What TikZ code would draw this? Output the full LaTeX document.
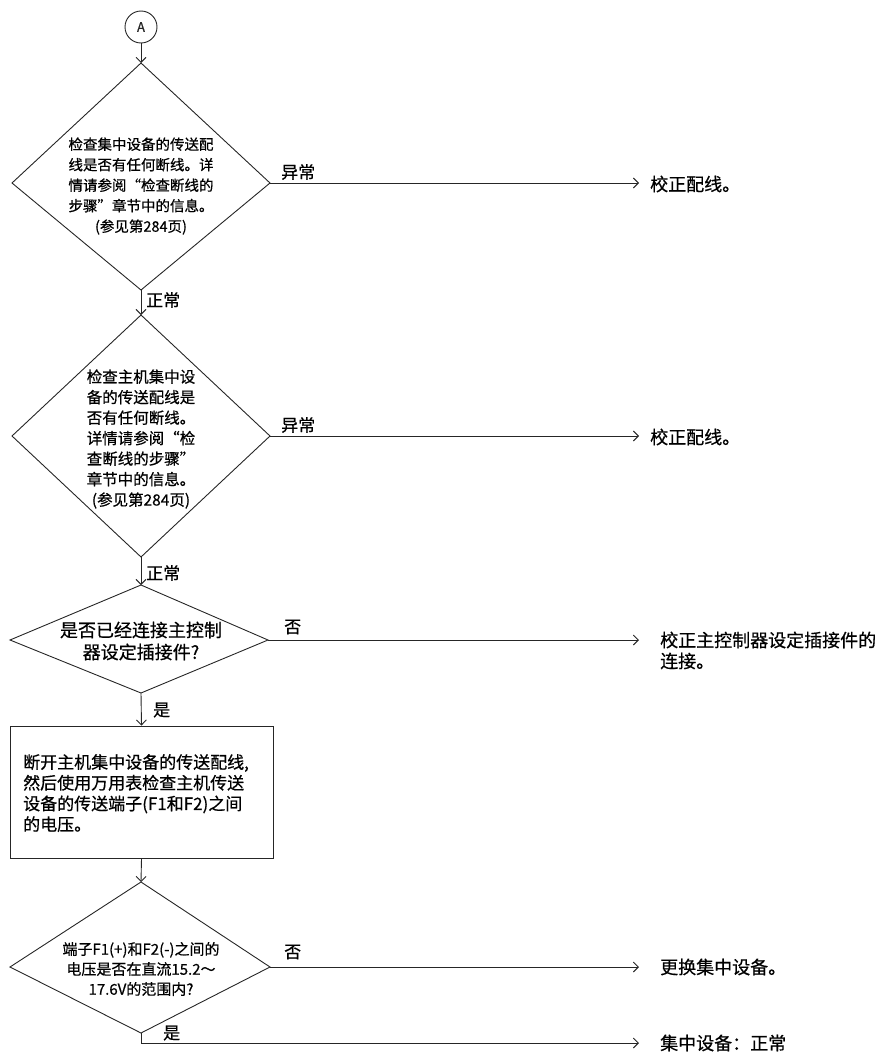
\documentclass[tikz,border=0pt]{standalone}
\usepackage{fontspec}
\setmainfont{Noto Sans CJK SC}[FakeBold=0.6]
\usetikzlibrary{arrows.meta}
\begin{document}
\begin{tikzpicture}[x=1pt,y=-1pt,
  ln/.style={line width=0.9pt,black!85},
  conn/.style={ln,-{Straight Barb[length=5pt,width=10pt,line width=0.9pt]}},
  shp/.style={ln,line join=miter},
  dtext/.style={align=center,inner sep=0pt,font=\fontsize{14.5}{20.5}\selectfont},
  lbl/.style={anchor=west,inner sep=0pt,font=\fontsize{18}{21}\selectfont},
  blbl/.style={anchor=west,inner sep=0pt,font=\fontsize{17}{20}\selectfont}]
\useasboundingbox (0,0) rectangle (883,1052);
% connector A
\node[draw,ln,circle,minimum size=32pt,inner sep=0pt,font=\fontsize{13}{14}\selectfont] (A) at (141,27) {A};
% diamond 1
\coordinate (T1) at (141,63); \coordinate (L1) at (12,183);
\coordinate (R1) at (270,183); \coordinate (B1) at (141,290);
\draw[shp] (T1) -- (R1) -- (B1) -- (L1) -- cycle;
\node[dtext] (d1) at (141,186) {检查集中设备的传送配\\线是否有任何断线。详\\情请参阅“检查断线的\\步骤”章节中的信息。\\(参见第284页)};
% diamond 2
\coordinate (T2) at (141,315); \coordinate (L2) at (12,436);
\coordinate (R2) at (270,436); \coordinate (B2) at (141,557);
\draw[shp] (T2) -- (R2) -- (B2) -- (L2) -- cycle;
\node[dtext,font=\fontsize{15.5}{20.5}\selectfont] (d2) at (141,439) {检查主机集中设\\备的传送配线是\\否有任何断线。\\详情请参阅“检\\查断线的步骤”\\章节中的信息。\\(参见第284页)};
% diamond 3
\coordinate (T3) at (141,585); \coordinate (L3) at (10,640);
\coordinate (R3) at (268,640); \coordinate (B3) at (141,693);
\draw[shp] (T3) -- (R3) -- (B3) -- (L3) -- cycle;
\node[dtext,font=\fontsize{18}{22}\selectfont] (d3) at (141,641) {是否已经连接主控制\\器设定插接件?};
% box
\node[draw,ln,minimum width=263pt,minimum height=132pt,inner sep=0pt] (box) at (141.5,792) {};
\node[anchor=north west,align=left,inner sep=0pt,font=\fontsize{17}{20.7}\selectfont] (bt) at (23,754) {断开主机集中设备的传送配线,\\然后使用万用表检查主机传送\\设备的传送端子(F1和F2)之间\\的电压。};
% diamond 4
\coordinate (T4) at (141,882); \coordinate (L4) at (10,967);
\coordinate (R4) at (270,967); \coordinate (B4) at (141,1033);
\draw[shp] (T4) -- (R4) -- (B4) -- (L4) -- cycle;
\node[dtext,font=\fontsize{15}{20}\selectfont] (d4) at (141,969) {端子F1(+)和F2(-)之间的\\电压是否在直流15.2～\\17.6V的范围内?};
% vertical connectors
\draw[conn] (A) -- (T1);
\draw[conn] (B1) -- (T2);
\draw[conn] (B2) -- (T3);
\draw[conn] (B3) -- (box.north);
\draw[conn] (box.south) -- (T4);
% right-side targets
\coordinate (E1) at (639,183);
\coordinate (E2) at (639,436);
\coordinate (E3) at (639,640);
\coordinate (E4) at (639,967);
\coordinate (C5) at (141,1043);
\coordinate (E5) at (639,1043);
\draw[conn] (R1) -- (E1);
\draw[conn] (R2) -- (E2);
\draw[conn] (R3) -- (E3);
\draw[conn] (R4) -- (E4);
\draw[conn] (B4) -- (C5) -- (E5);
% results
\node[lbl] (r1) at (650,184) {校正配线。};
\node[lbl] (r2) at (650,437) {校正配线。};
\node[lbl] (r3) at (660,640) {校正主控制器设定插接件的};
\node[lbl] (r3b) at (660,661) {连接。};
\node[lbl] (r4) at (660,967) {更换集中设备。};
\node[lbl] (r5) at (660,1043) {集中设备：正常};
% branch labels
\node[blbl] (l1) at (281,172) {异常};
\node[blbl] (l2) at (146,300) {正常};
\node[blbl] (l3) at (281,425) {异常};
\node[blbl] (l4) at (146,573) {正常};
\node[blbl] (l5) at (284,627) {否};
\node[blbl] (l6) at (153,710) {是};
\node[blbl] (l7) at (284,952) {否};
\node[blbl] (l8) at (163,1033) {是};
\end{tikzpicture}
\end{document}
